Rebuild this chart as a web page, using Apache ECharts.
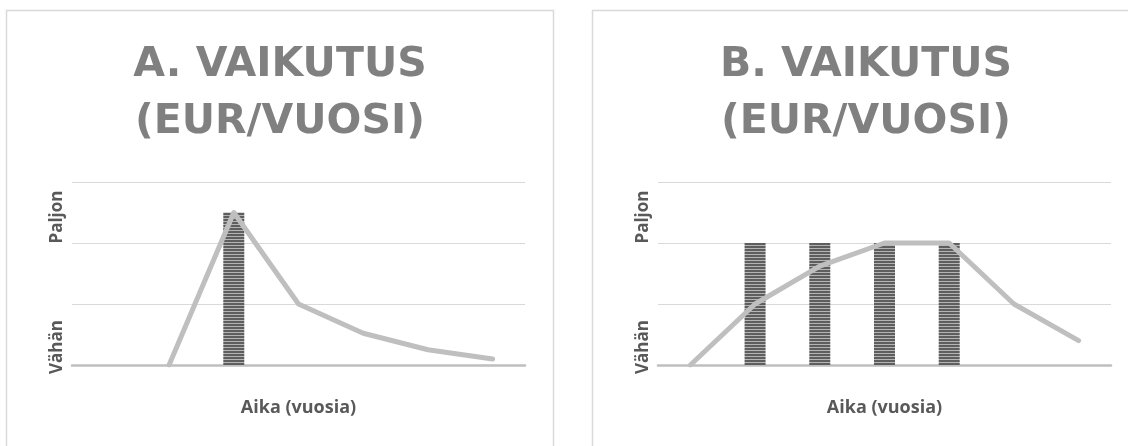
<!DOCTYPE html>
<html>
<head>
<meta charset="utf-8">
<script src="https://cdn.jsdelivr.net/npm/echarts@6/dist/echarts.min.js"></script>
<style>
html,body{margin:0;padding:0;background:#fff;}
#c{width:1128px;height:446px;}
</style>
</head>
<body>
<div id="c"></div>
<script>
// ---- data ----
const categories = ['1', '2', '3', '4', '5', '6', '7'];
const titleA = 'A. VAIKUTUS\n(EUR/VUOSI)';
const titleB = 'B. VAIKUTUS\n(EUR/VUOSI)';
const xName = 'Aika (vuosia)';
const yHigh = 'Paljon';
const yLow = 'Vähän';
const lineA = [null, 0, 2.5, 1, 0.52, 0.25, 0.1];
const barsA = [null, null, 2.5, null, null, null, null];
const lineB = [0, 1.0, 1.62, 2, 2, 1, 0.4];
const barsB = [null, 2, 2, 2, 2, null, null];

// striped pattern for bars
const pc = document.createElement('canvas');
pc.width = 4; pc.height = 3;
const px = pc.getContext('2d');
px.fillStyle = '#b4b4b4'; px.fillRect(0, 0, 4, 3);
px.fillStyle = '#5e5e5e'; px.fillRect(0, 0, 4, 2);
const stripe = { image: pc, repeat: 'repeat' };

const chart = echarts.init(document.getElementById('c'), null, { renderer: 'canvas' });

function xAxis(gi) {
  return {
    type: 'category', gridIndex: gi, data: categories, boundaryGap: true,
    axisLine: { lineStyle: { color: '#bfbfbf', width: 2.5 } },
    axisTick: { show: false }, axisLabel: { show: false },
    name: xName, nameLocation: 'middle', nameGap: 34,
    nameTextStyle: { fontFamily: 'Open Sans', fontWeight: 'bold', fontSize: 18, color: '#595959' }
  };
}
function yAxis(gi) {
  return {
    type: 'value', gridIndex: gi, min: 0, max: 3, interval: 1,
    axisLine: { show: false }, axisTick: { show: false }, axisLabel: { show: false },
    splitLine: { lineStyle: { color: '#d9d9d9', width: 1 } }
  };
}
function lineSeries(gi, data) {
  return {
    type: 'line', xAxisIndex: gi, yAxisIndex: gi, data: data, symbol: 'none', z: 5,
    lineStyle: { color: '#bfbfbf', width: 5, cap: 'round', join: 'round' }, silent: true
  };
}
function barSeries(gi, data) {
  return {
    type: 'bar', xAxisIndex: gi, yAxisIndex: gi, data: data, barWidth: 21, z: 3,
    itemStyle: { color: stripe }, silent: true
  };
}
const titleStyle = {
  fontFamily: 'DejaVu Sans', fontWeight: 'bold', fontSize: 41, lineHeight: 57,
  fill: '#808080', textAlign: 'center', textVerticalAlign: 'top'
};
const sideFont = 'bold 17px "Open Sans"';

chart.setOption({
  animation: false,
  grid: [
    { left: 72, right: 603, top: 182, bottom: 81 },
    { left: 658, right: 17, top: 182, bottom: 81 }
  ],
  xAxis: [xAxis(0), xAxis(1)],
  yAxis: [yAxis(0), yAxis(1)],
  series: [barSeries(0, barsA), lineSeries(0, lineA), barSeries(1, barsB), lineSeries(1, lineB)],
  graphic: [
    { type: 'rect', shape: { x: 6.5, y: 10.5, width: 547, height: 480 }, style: { fill: 'none', stroke: '#d9d9d9', lineWidth: 1.5 }, silent: true },
    { type: 'rect', shape: { x: 592.5, y: 10.5, width: 547, height: 480 }, style: { fill: 'none', stroke: '#d9d9d9', lineWidth: 1.5 }, silent: true },
    { type: 'text', x: 280, y: 37, style: Object.assign({ text: titleA }, titleStyle) },
    { type: 'text', x: 866, y: 37, style: Object.assign({ text: titleB }, titleStyle) },
    { type: 'text', x: 57, y: 217, rotation: Math.PI / 2, style: { text: yHigh, font: sideFont, fill: '#595959', textAlign: 'center', textVerticalAlign: 'middle' } },
    { type: 'text', x: 57, y: 347, rotation: Math.PI / 2, style: { text: yLow, font: sideFont, fill: '#595959', textAlign: 'center', textVerticalAlign: 'middle' } },
    { type: 'text', x: 643, y: 217, rotation: Math.PI / 2, style: { text: yHigh, font: sideFont, fill: '#595959', textAlign: 'center', textVerticalAlign: 'middle' } },
    { type: 'text', x: 643, y: 347, rotation: Math.PI / 2, style: { text: yLow, font: sideFont, fill: '#595959', textAlign: 'center', textVerticalAlign: 'middle' } }
  ]
});
</script>
</body>
</html>
